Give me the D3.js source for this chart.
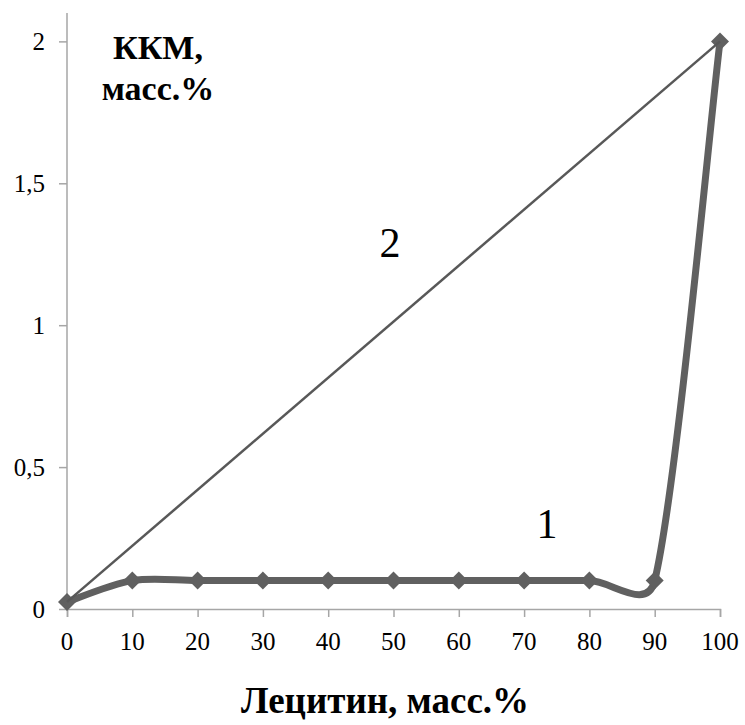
<!DOCTYPE html>
<html>
<head>
<meta charset="utf-8">
<script src="https://cdn.jsdelivr.net/npm/d3@7"></script>
</head>
<body style="margin:0;background:#fff">
<div id="chart" style="position:relative;width:745px;height:725px"></div>
<script>
// data
const lecithin = [0, 10, 20, 30, 40, 50, 60, 70, 80, 90, 100];
const cmcCurve1 = [0.025, 0.1, 0.1, 0.1, 0.1, 0.1, 0.1, 0.1, 0.1, 0.1, 2];
const line2X = [0, 100];
const line2Y = [0.025, 2];
const xTicks = [0, 10, 20, 30, 40, 50, 60, 70, 80, 90, 100];
const yTicks = [0, 0.5, 1, 1.5, 2];

const width = 745, height = 725;
const serif = "'Liberation Serif', 'Times New Roman', serif";
const chart = d3.select('#chart');

const svg = chart.append('svg')
  .attr('width', width)
  .attr('height', height)
  .style('display', 'block')
  .style('position', 'absolute')
  .style('left', '0px')
  .style('top', '0px');

const x = d3.scaleLinear().domain([0, 100]).range([67, 720]);
const y = d3.scaleLinear().domain([0, 2.1]).range([609, 13]);

const axisColor = '#a6a6a6';
const lineColor = '#606060';

// text as html on top of the svg (baseline placed at by)
function label(txt, lx, by, size, anchor, bold) {
  const shift = anchor === 'middle' ? '-50%' : anchor === 'end' ? '-100%' : '0';
  chart.append('div')
    .style('position', 'absolute')
    .style('left', lx + 'px')
    .style('top', (by - 0.8375 * size) + 'px')
    .style('transform', 'translateX(' + shift + ')')
    .style('white-space', 'nowrap')
    .style('font-family', serif)
    .style('font-size', size + 'px')
    .style('line-height', size + 'px')
    .style('font-weight', bold ? 'bold' : 'normal')
    .style('color', '#000')
    .text(txt);
}

// X axis
const xAxis = d3.axisBottom(x)
  .tickValues(xTicks)
  .tickSize(8)
  .tickFormat('');

const gx = svg.append('g')
  .attr('transform', 'translate(0,' + y(0) + ')')
  .call(xAxis);
gx.select('.domain').attr('stroke', axisColor).attr('stroke-width', 1.5);
gx.selectAll('.tick line').attr('stroke', axisColor).attr('stroke-width', 1.5);
xTicks.forEach(d => label(d3.format('d')(d), x(d), 650, 25, 'middle'));

// Y axis
const yAxis = d3.axisLeft(y)
  .tickValues(yTicks)
  .tickSize(8)
  .tickFormat('');

const gy = svg.append('g')
  .attr('transform', 'translate(' + x(0) + ',0)')
  .call(yAxis);
gy.select('.domain')
  .attr('stroke', axisColor)
  .attr('stroke-width', 1.5)
  .attr('d', 'M0,' + y(2.1) + 'V' + y(0));
gy.selectAll('.tick line').attr('stroke', axisColor).attr('stroke-width', 1.5);
yTicks.forEach(d => label(String(d).replace('.', ','), 45, y(d) + 8.5, 25, 'end'));

// Excel-like smoothed line: cardinal bezier, control arms capped at half the segment
function smoothPath(pts) {
  const p = d3.path();
  const dist = (a, b) => Math.hypot(b[0] - a[0], b[1] - a[1]);
  p.moveTo(pts[0][0], pts[0][1]);
  for (let i = 0; i < pts.length - 1; i++) {
    const p0 = pts[Math.max(i - 1, 0)];
    const p1 = pts[i];
    const p2 = pts[i + 1];
    const p3 = pts[Math.min(i + 2, pts.length - 1)];
    const d12 = dist(p1, p2);
    const d02 = dist(p0, p2) || 1;
    const d13 = dist(p1, p3) || 1;
    const f0 = d02 / 6 < d12 / 2 ? 1 / 6 : d12 / 2 / d02;
    const f1 = d13 / 6 < d12 / 2 ? 1 / 6 : d12 / 2 / d13;
    p.bezierCurveTo(
      p1[0] + (p2[0] - p0[0]) * f0, p1[1] + (p2[1] - p0[1]) * f0,
      p2[0] - (p3[0] - p1[0]) * f1, p2[1] - (p3[1] - p1[1]) * f1,
      p2[0], p2[1]);
  }
  return p.toString();
}

// Curve 1
const pts1 = lecithin.map((d, i) => [x(d), y(cmcCurve1[i])]);

svg.append('path')
  .attr('d', smoothPath(pts1))
  .attr('fill', 'none')
  .attr('stroke', lineColor)
  .attr('stroke-width', 7)
  .attr('stroke-linejoin', 'round');

// diamond markers
svg.append('g')
  .selectAll('path')
  .data(pts1)
  .enter().append('path')
    .attr('transform', d => 'translate(' + d[0] + ',' + d[1] + ')')
    .attr('d', 'M0,-9L9,0L0,9L-9,0Z')
    .attr('fill', lineColor);

// Line 2 (straight)
const pts2 = line2X.map((d, i) => [d, line2Y[i]]);
svg.append('path')
  .attr('d', d3.line().x(d => x(d[0])).y(d => y(d[1]))(pts2))
  .attr('fill', 'none')
  .attr('stroke', '#585858')
  .attr('stroke-width', 2.5);

// curve labels
label('2', 390, 257, 42, 'middle');
label('1', 547, 538, 42, 'middle');

// axis titles
label('ККМ,', 158, 59, 34, 'middle', true);
label('масс.%', 158, 100, 34, 'middle', true);
label('Лецитин, масс.%', 385, 713, 37, 'middle', true);
</script>
</body>
</html>
